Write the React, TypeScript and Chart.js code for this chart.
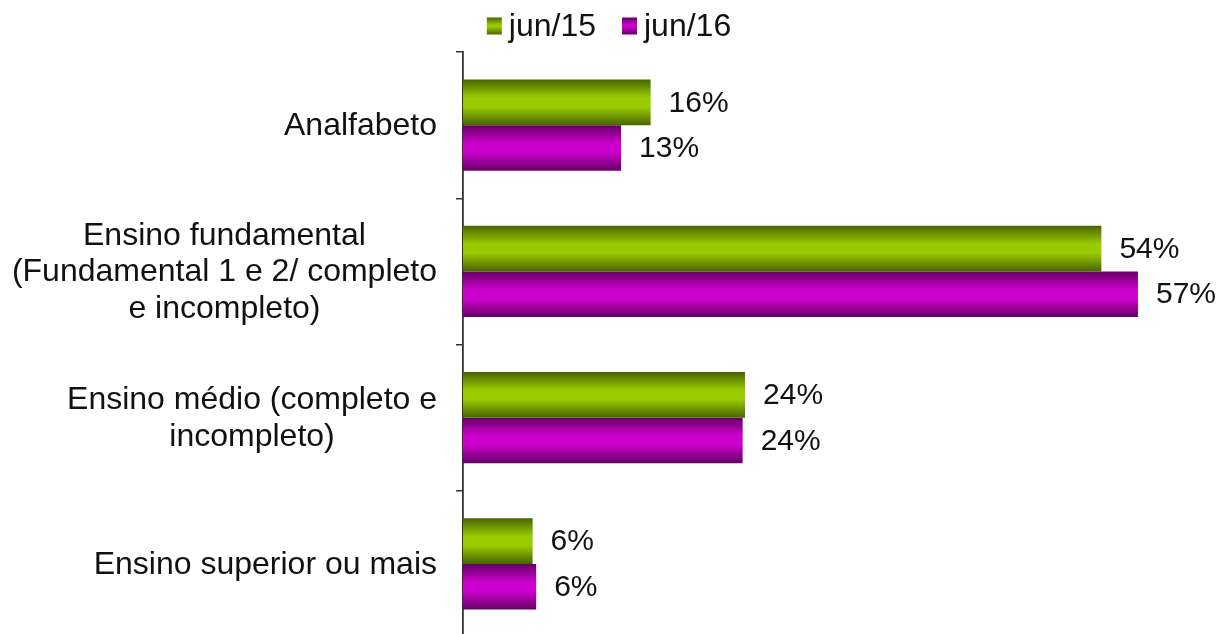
import React, { useEffect, useRef } from "react";
import { Chart, registerables } from "chart.js";

Chart.register(...registerables);

const categories: string[][] = [
  ["Analfabeto"],
  ["Ensino fundamental", "(Fundamental 1 e 2/ completo", "e incompleto)"],
  ["Ensino médio (completo e", "incompleto)"],
  ["Ensino superior ou mais"],
];
const seriesNames = ["jun/15", "jun/16"];
const jun15 = [15.9, 54.1, 23.9, 5.9];
const jun16 = [13.4, 57.2, 23.7, 6.2];
const darkColors = ["#4a6400", "#640064"];
const lightColors = ["#99cc00", "#cc00cc"];

const CAT_PCT = 0.625;
const FONT = "'Liberation Sans', Arial, sans-serif";

function barFill(dsIndex: number) {
  return (ctx: any) => {
    const chart = ctx.chart;
    const area = chart.chartArea;
    if (!area || ctx.type !== "data") return lightColors[dsIndex];
    const yScale = chart.scales.y;
    const band = (area.bottom - area.top) / categories.length;
    const size = band * CAT_PCT;
    const barH = size / 2;
    const center = yScale.getPixelForValue(ctx.dataIndex);
    const top = center - size / 2 + dsIndex * barH;
    const g = chart.ctx.createLinearGradient(0, top, 0, top + barH);
    g.addColorStop(0, darkColors[dsIndex]);
    g.addColorStop(0.4, lightColors[dsIndex]);
    g.addColorStop(0.6, lightColors[dsIndex]);
    g.addColorStop(1, darkColors[dsIndex]);
    return g;
  };
}

const customPlugin = {
  id: "custom",
  afterDraw(chart: any) {
    const ctx = chart.ctx;
    const area = chart.chartArea;
    const yScale = chart.scales.y;
    ctx.save();
    // category labels: block right aligned, lines centered within block
    ctx.font = `32px ${FONT}`;
    ctx.fillStyle = "#111";
    ctx.textBaseline = "middle";
    ctx.textAlign = "center";
    const lineH = 36.5;
    const rightEdge = area.left - 26;
    categories.forEach((lines, i) => {
      const w = Math.max(...lines.map((l) => ctx.measureText(l).width));
      const cx = rightEdge - w / 2;
      const cy = yScale.getPixelForValue(i);
      lines.forEach((l, k) => {
        ctx.fillText(l, cx, cy + (k - (lines.length - 1) / 2) * lineH + 1);
      });
    });
    // data labels
    ctx.font = `30px ${FONT}`;
    ctx.textAlign = "left";
    chart.data.datasets.forEach((ds: any, di: number) => {
      const meta = chart.getDatasetMeta(di);
      meta.data.forEach((el: any, i: number) => {
        const p = el.getProps(["x", "y"], true);
        ctx.fillText(Math.round(ds.data[i]) + "%", p.x + 18, p.y + 1);
      });
    });
    // legend
    ctx.font = `32px ${FONT}`;
    const boxW = 15, boxH = 17, gap = 7, spacing = 26;
    const widths = chart.data.datasets.map((ds: any) => ctx.measureText(ds.label).width);
    const total = widths.reduce((a: number, w: number) => a + boxW + gap + w, 0) + spacing * (widths.length - 1);
    let x = chart.width / 2 - total / 2;
    const ly = 26;
    chart.data.datasets.forEach((ds: any, di: number) => {
      const g = ctx.createLinearGradient(0, ly - boxH / 2, 0, ly + boxH / 2);
      g.addColorStop(0, darkColors[di]);
      g.addColorStop(0.45, lightColors[di]);
      g.addColorStop(0.55, lightColors[di]);
      g.addColorStop(1, darkColors[di]);
      ctx.fillStyle = g;
      ctx.fillRect(x, ly - boxH / 2, boxW, boxH);
      x += boxW + gap;
      ctx.fillStyle = "#111";
      ctx.fillText(ds.label, x, ly + 1);
      x += widths[di] + spacing;
    });
    ctx.restore();
  },
};

export default function App() {
  const ref = useRef<HTMLCanvasElement>(null);
  useEffect(() => {
    if (!ref.current) return;
    const chart = new Chart(ref.current, {
      type: "bar",
      data: {
        labels: categories.map((c) => c.join(" ")),
        datasets: [
          { label: seriesNames[0], data: jun15, backgroundColor: barFill(0), borderWidth: 0 },
          { label: seriesNames[1], data: jun16, backgroundColor: barFill(1), borderWidth: 0 },
        ],
      },
      options: {
        indexAxis: "y",
        animation: false,
        responsive: true,
        maintainAspectRatio: false,
        datasets: { bar: { categoryPercentage: CAT_PCT, barPercentage: 1 } },
        layout: { padding: { left: 456, right: 47, top: 52, bottom: 0 } },
        plugins: { legend: { display: false }, tooltip: { enabled: false } },
        scales: {
          x: { display: false, min: 0, max: 60 },
          y: {
            display: true,
            offset: true,
            ticks: { display: false },
            grid: { offset: true, drawOnChartArea: false, drawTicks: true, tickLength: 7, color: "#333", lineWidth: 1.5 },
            border: { display: true, color: "#333", width: 1.8 },
          },
        },
      },
      plugins: [customPlugin],
    });
    return () => chart.destroy();
  }, []);
  return (
    <div style={{ position: "fixed", left: 0, top: 0, width: 1218, height: 634, overflow: "hidden", background: "#fff" }}>
      <div style={{ position: "relative", width: 1218, height: 637 }}>
        <canvas ref={ref} />
      </div>
    </div>
  );
}
